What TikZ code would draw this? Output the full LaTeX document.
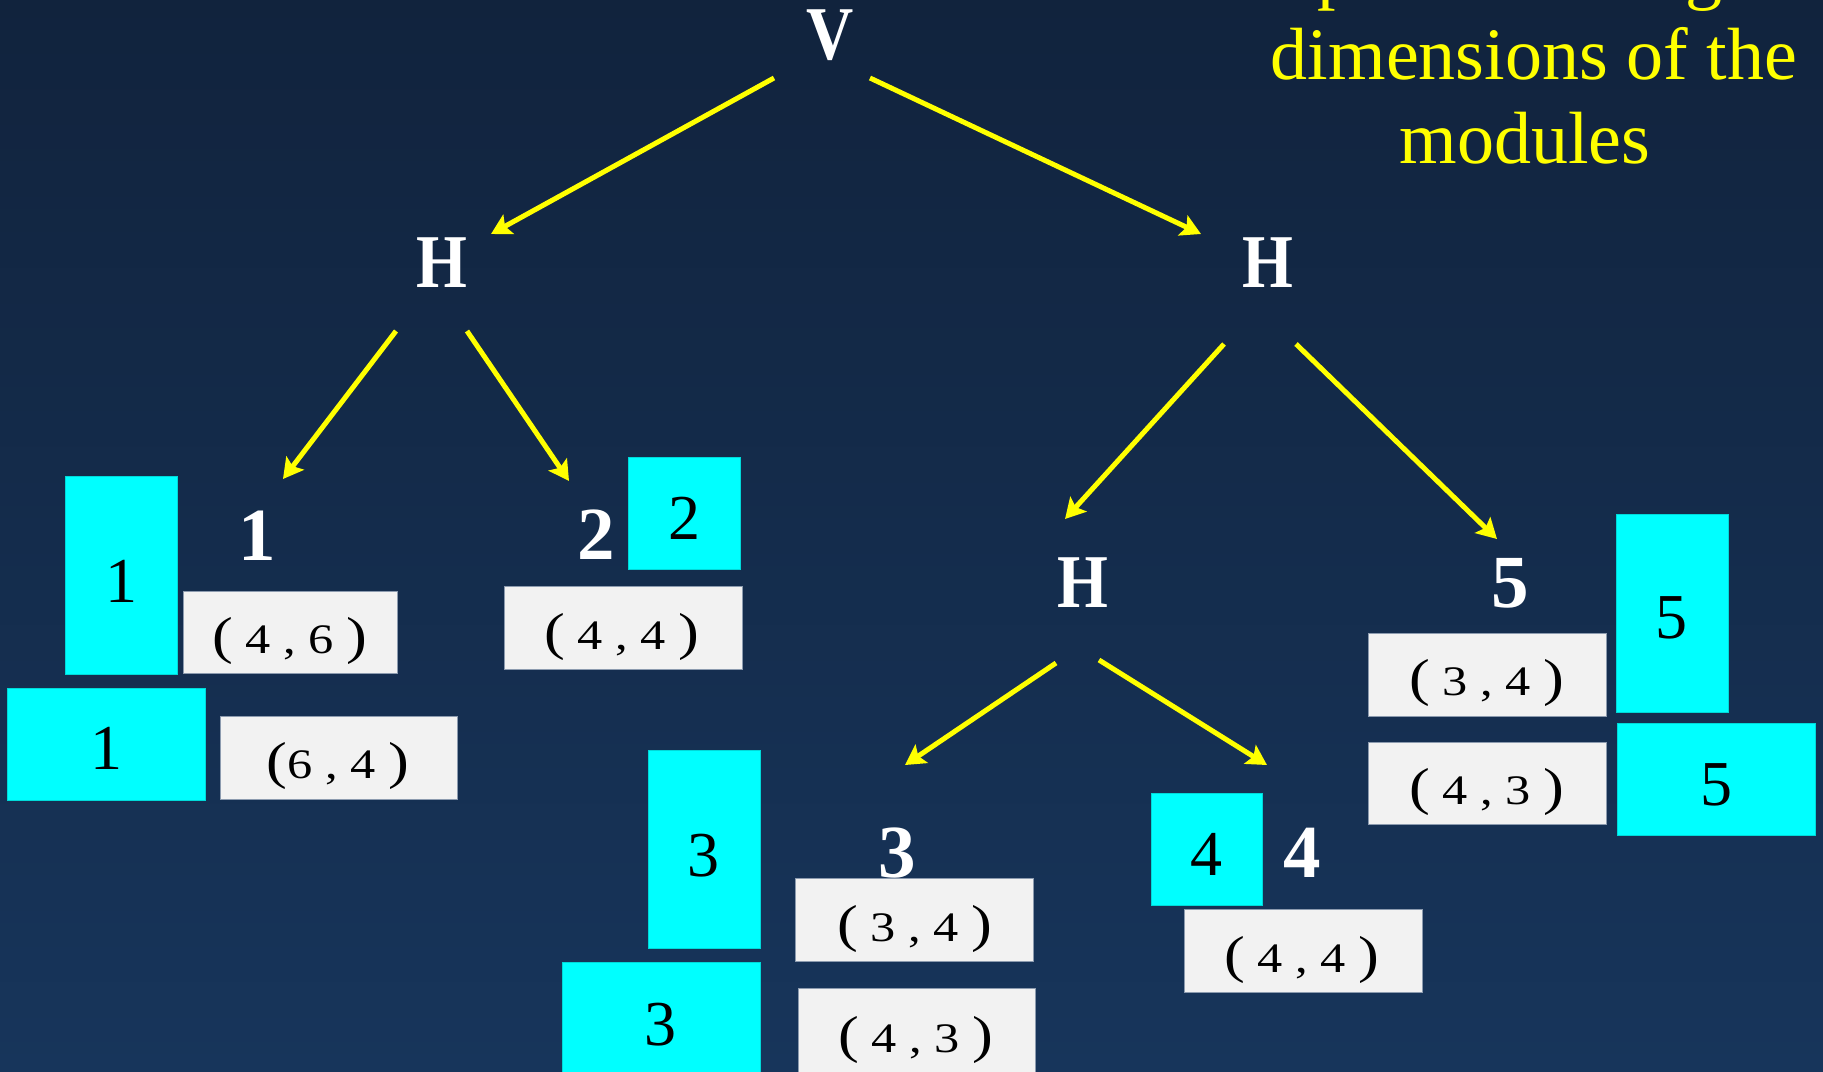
\documentclass[tikz,border=0pt]{standalone}
\usepackage{fontspec}
\setmainfont{Liberation Serif}
\newfontfamily\lfont[FakeStretch=0.86]{Liberation Serif}
\newfontfamily\dfont[FakeStretch=1.2]{Liberation Serif}
\usetikzlibrary{arrows.meta}
\definecolor{bgtop}{RGB}{17,35,61}
\definecolor{bgbot}{RGB}{23,53,91}
\definecolor{boxgray}{RGB}{242,242,242}
\definecolor{boxedge}{RGB}{140,155,175}
\definecolor{ylw}{RGB}{255,255,0}
\definecolor{cyn}{RGB}{0,255,255}
\tikzset{
  treelbl/.style={text=white, font=\lfont\bfseries\fontsize{76}{76}\selectfont, inner sep=0pt, anchor=base},
  leaflbl/.style={text=white, font=\bfseries\fontsize{75}{75}\selectfont, inner sep=0pt, anchor=base},
  mod/.style={fill=cyn, draw=cyn!85!black, line width=0.8pt, anchor=north west, inner sep=0pt},
  modlbl/.style={text=black, font=\fontsize{64}{64}\selectfont, inner sep=0pt, anchor=base},
  dimbox/.style={fill=boxgray, draw=boxedge, line width=1pt, anchor=north west, inner sep=0pt},
  dimlbl/.style={text=black, font=\dfont\fontsize{42}{42}\selectfont, inner sep=0pt, anchor=base},
  edge/.style={draw=ylw, line width=5pt, -{Stealth[length=20pt,width=22pt,inset=4pt]}},
  note/.style={text=ylw, font=\fontsize{74}{74}\selectfont, inner sep=0pt, anchor=base}
}
\newcommand\bigpar[1]{{\fontsize{52}{52}\selectfont #1}}
\begin{document}
\begin{tikzpicture}[x=1pt,y=-1pt]
\useasboundingbox (0,0) rectangle (1823,1071);
\shade[top color=bgtop,bottom color=bgbot] (0,0) rectangle (1823,1071);

% note text
\node[note] (t1) at (1448,-5) {Compute resulting};
\node[note] (t2) at (1534,79) {dimensions of the};
\node[note] (t3) at (1525,163) {modules};

% tree labels
\node[treelbl] (V) at (830,59) {V};
\node[treelbl] (HL) at (442,287) {H};
\node[treelbl] (HR) at (1268,287) {H};
\node[treelbl] (HM) at (1083,607) {H};
\node[leaflbl] (L1) at (257,560) {1};
\node[leaflbl] (L2) at (596,559) {2};
\node[leaflbl] (L3) at (897,877) {3};
\node[leaflbl] (L4) at (1302,877) {4};
\node[leaflbl] (L5) at (1510,607) {5};

% modules
\node[mod, minimum width=112pt, minimum height=198pt] (m1v) at (65,476) {};
\node[mod, minimum width=198pt, minimum height=112pt] (m1h) at (7,688) {};
\node[mod, minimum width=112pt, minimum height=112pt] (m2) at (628,457) {};
\node[mod, minimum width=112pt, minimum height=198pt] (m3v) at (648,750) {};
\node[mod, minimum width=198pt, minimum height=112pt] (m3h) at (562,962) {};
\node[mod, minimum width=111pt, minimum height=112pt] (m4) at (1151,793) {};
\node[mod, minimum width=112pt, minimum height=198pt] (m5v) at (1616,514) {};
\node[mod, minimum width=198pt, minimum height=112pt] (m5h) at (1617,723) {};

\node[modlbl] (m1vt) at (121,602) {1};
\node[modlbl] (m1ht) at (106,769) {1};
\node[modlbl] (m2t) at (684,539) {2};
\node[modlbl] (m3vt) at (703,876) {3};
\node[modlbl] (m3ht) at (660,1045) {3};
\node[modlbl] (m4t) at (1206,875) {4};
\node[modlbl] (m5vt) at (1671,638) {5};
\node[modlbl] (m5ht) at (1716,805) {5};

% dimension boxes
\node[dimbox, minimum width=214pt, minimum height=82pt] (d1a) at (183,591) {};
\node[dimbox, minimum width=237pt, minimum height=83pt] (d1b) at (220,716) {};
\node[dimbox, minimum width=238pt, minimum height=83pt] (d2) at (504,586) {};
\node[dimbox, minimum width=238pt, minimum height=83pt] (d3a) at (795,878) {};
\node[dimbox, minimum width=237pt, minimum height=90pt] (d3b) at (798,988) {};
\node[dimbox, minimum width=238pt, minimum height=83pt] (d4) at (1184,909) {};
\node[dimbox, minimum width=238pt, minimum height=83pt] (d5a) at (1368,633) {};
\node[dimbox, minimum width=238pt, minimum height=82pt] (d5b) at (1368,742) {};

\node[dimlbl] (d1at) at (290,653) {\bigpar{(} 4 , 6 \bigpar{)}};
\node[dimlbl] (d1bt) at (338,778) {\bigpar{(}6 , 4 \bigpar{)}};
\node[dimlbl] (d2t) at (622,649) {\bigpar{(} 4 , 4 \bigpar{)}};
\node[dimlbl] (d3at) at (915,941) {\bigpar{(} 3 , 4 \bigpar{)}};
\node[dimlbl] (d3bt) at (916,1052) {\bigpar{(} 4 , 3 \bigpar{)}};
\node[dimlbl] (d4t) at (1302,972) {\bigpar{(} 4 , 4 \bigpar{)}};
\node[dimlbl] (d5at) at (1487,695) {\bigpar{(} 3 , 4 \bigpar{)}};
\node[dimlbl] (d5bt) at (1487,804) {\bigpar{(} 4 , 3 \bigpar{)}};

% connector end points
\coordinate (Vl) at (774,78);   \coordinate (HLt) at (491,234);
\coordinate (Vr) at (870,78);   \coordinate (HRt) at (1201,234);
\coordinate (HLl) at (396,331); \coordinate (L1t) at (283,479);
\coordinate (HLr) at (467,331); \coordinate (L2t) at (569,481);
\coordinate (HRl) at (1224,344); \coordinate (HMt) at (1065,519);
\coordinate (HRr) at (1296,344); \coordinate (L5t) at (1497,539);
\coordinate (HMl) at (1056,663); \coordinate (L3t) at (905,765);
\coordinate (HMr) at (1099,660); \coordinate (L4t) at (1267,765);

\draw[edge] (Vl) -- (HLt);
\draw[edge] (Vr) -- (HRt);
\draw[edge] (HLl) -- (L1t);
\draw[edge] (HLr) -- (L2t);
\draw[edge] (HRl) -- (HMt);
\draw[edge] (HRr) -- (L5t);
\draw[edge] (HMl) -- (L3t);
\draw[edge] (HMr) -- (L4t);
\end{tikzpicture}
\end{document}
